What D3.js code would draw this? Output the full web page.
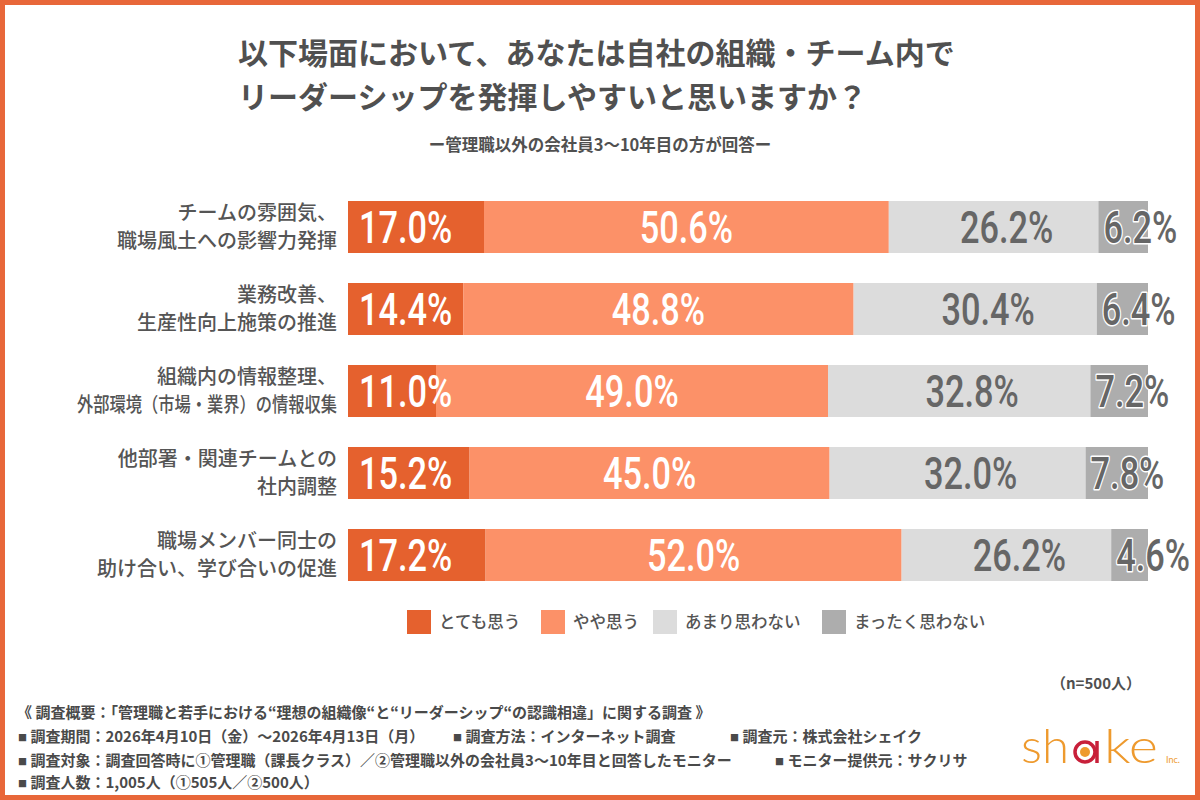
<!DOCTYPE html>
<html><head><meta charset="utf-8">
<script src="https://cdn.jsdelivr.net/npm/d3@7"></script>
<style>
html,body{margin:0;padding:0;background:#fff;}
svg{display:block;}
</style></head>
<body>
<svg id="chart" width="1200" height="800"></svg>
<script>
const categories = [
  ["チームの雰囲気、","職場風土への影響力発揮"],
  ["業務改善、","生産性向上施策の推進"],
  ["組織内の情報整理、","外部環境（市場・業界）の情報収集"],
  ["他部署・関連チームとの","社内調整"],
  ["職場メンバー同士の","助け合い、学び合いの促進"]
];
const seriesNames = ["とても思う","やや思う","あまり思わない","まったく思わない"];
const veryMuch = [17.0,14.4,11.0,15.2,17.2];
const somewhat = [50.6,48.8,49.0,45.0,52.0];
const notMuch = [26.2,30.4,32.8,32.0,26.2];
const notAtAll = [6.2,6.4,7.2,7.8,4.6];
const series = [veryMuch, somewhat, notMuch, notAtAll];
const colors = ["#E5612E","#FC9168","#DCDCDC","#ADADAD"];
const titleLines = ["以下場面において、あなたは自社の組織・チーム内で","リーダーシップを発揮しやすいと思いますか？"];
const subtitle = "ー管理職以外の会社員3〜10年目の方が回答ー";
const sampleNote = "（n=500人）";
const footerLines = [
  [["《 調査概要：「管理職と若手における“理想の組織像“と“リーダーシップ“の認識相違」に関する調査 》",17]],
  [["■ 調査期間：2026年4月10日（金）〜2026年4月13日（月）",18],["■ 調査方法：インターネット調査",453],["■ 調査元：株式会社シェイク",730]],
  [["■ 調査対象：調査回答時に①管理職（課長クラス）／②管理職以外の会社員3〜10年目と回答したモニター",18],["■ モニター提供元：サクリサ",775]],
  [["■ 調査人数：1,005人（①505人／②500人）",18]]
];

const JP = "'Noto Sans CJK JP','Noto Sans',sans-serif";
const svg = d3.select("#chart");
svg.append("rect").attr("x",0).attr("y",0).attr("width",1200).attr("height",800).attr("fill","#fff");

// Title
svg.append("g").selectAll("text").data(titleLines).join("text")
  .attr("x",238).attr("y",(d,i)=>64+i*44)
  .attr("font-family",JP).attr("font-size",30).attr("font-weight",700)
  .attr("fill","#505050").text(d=>d);
svg.append("text").attr("x",600).attr("y",151).attr("text-anchor","middle")
  .attr("font-family",JP).attr("font-size",16.5).attr("font-weight",700)
  .attr("fill","#505050").text(subtitle);

// Scales
const x = d3.scaleLinear().domain([0,100]).range([348,1148]);
const y = d3.scaleBand().domain(d3.range(categories.length)).range([171,611]).paddingInner(0.3659).paddingOuter(0.3659);

// Stack
const rows = categories.map((c,i)=>{
  let acc=0; return series.map((s,k)=>{const seg={row:i,k,v:s[i],x0:acc,x1:acc+s[i]}; acc+=s[i]; return seg;});
});
const segs = rows.flat();

const g = svg.append("g");
g.selectAll("rect.bar").data(segs).join("rect").attr("class","bar")
  .attr("x",d=>x(d.x0)).attr("width",d=>x(d.x1)-x(d.x0))
  .attr("y",d=>y(d.row)).attr("height",y.bandwidth())
  .attr("fill",d=>colors[d.k]);

// Value labels
g.selectAll("text.val").data(segs).join("text").attr("class","val")
  .attr("transform",d=>{
    let tx;
    if(d.k===0) tx=x(d.x0)+11;
    else if(d.k===3) tx=x(d.x0)+5;
    else if(d.k===2) tx=(x(d.x0)+x(d.x1))/2+13;
    else tx=(x(d.x0)+x(d.x1))/2;
    return `translate(${tx},${y(d.row)+y.bandwidth()/2}) scale(0.78,1)`;
  })
  .attr("dy","0.36em")
  .attr("text-anchor",d=>(d.k===1||d.k===2)?"middle":"start")
  .attr("font-family","Roboto,'DejaVu Sans',sans-serif").attr("font-size",44).attr("font-weight",500)
  .attr("fill",d=>d.k<2?"#ffffff":"#666666")
  .attr("stroke",d=>d.k===3?"#ffffff":"none").attr("stroke-width",3).attr("paint-order","stroke")
  .attr("stroke-linejoin","round")
  .text(d=>d.v.toFixed(1)+"%");

// Category labels
const cat = svg.append("g").selectAll("text").data(categories).join("text")
  .attr("x",337).attr("text-anchor","end")
  .attr("font-family",JP).attr("font-size",20).attr("font-weight",500).attr("fill","#555555");
cat.selectAll("tspan").data((d,i)=>d.map((t,j)=>({t,j,i}))).join("tspan")
  .attr("x",337).attr("y",d=>y(d.i)+y.bandwidth()/2+(d.j===0?-14:14)+7)
  .text(d=>d.t)
  .each(function(){
    const w=this.getComputedTextLength();
    if(w>265){ d3.select(this).attr("textLength",260).attr("lengthAdjust","spacingAndGlyphs"); }
  });

// Legend
const legX = [407,541,653,822];
const leg = svg.append("g").selectAll("g").data(seriesNames).join("g")
  .attr("transform",(d,i)=>`translate(${legX[i]},610)`);
leg.append("rect").attr("width",24).attr("height",24).attr("fill",(d,i)=>colors[i]);
leg.append("text").attr("x",32).attr("y",18).attr("font-family",JP).attr("font-size",16.5).attr("font-weight",500)
  .attr("fill","#555555").text(d=>d);

// n note
svg.append("text").attr("x",1141).attr("y",689).attr("text-anchor","end")
  .attr("font-family",JP).attr("font-size",15).attr("font-weight",700).attr("fill","#505050").text(sampleNote);

// Footer
const fy=[718,742,766,788];
footerLines.forEach((line,li)=>{
  const t = svg.append("g").selectAll("text").data(line).join("text")
    .attr("x",d=>d[1]).attr("y",fy[li])
    .attr("font-family",JP).attr("font-size",15).attr("font-weight",700).attr("fill","#4a4a4a");
  t.each(function(d){
    const s=d3.select(this); const str=d[0];
    if(str.startsWith("■")){
      s.append("tspan").attr("font-size",9).attr("dy",-1.5).text("■");
      s.append("tspan").attr("dy",1.5).text(str.slice(1));
    } else s.text(str);
  });
});

// Logo
const logo = svg.append("g");
const LF = "Lato,'Open Sans',sans-serif";
logo.append("text").attr("x",1021).attr("y",763).attr("font-family",LF)
  .attr("font-size",48).attr("font-weight",300).attr("fill","#EE9A2E")
  .attr("textLength",48).attr("lengthAdjust","spacingAndGlyphs").text("sh");
logo.append("circle").attr("cx",1085).attr("cy",752).attr("r",10).attr("fill","none").attr("stroke","#C8203A").attr("stroke-width",3.5);
logo.append("line").attr("x1",1097).attr("x2",1097).attr("y1",741).attr("y2",763).attr("stroke","#C8203A").attr("stroke-width",3.5);
logo.append("circle").attr("cx",1085).attr("cy",752).attr("r",5).attr("fill","#EE9A2E");
logo.append("text").attr("x",1104).attr("y",763).attr("font-family",LF)
  .attr("font-size",48).attr("font-weight",300).attr("fill","#EE9A2E")
  .attr("textLength",54).attr("lengthAdjust","spacingAndGlyphs").text("ke");
logo.append("text").attr("x",1166).attr("y",763).attr("font-family",LF)
  .attr("font-size",9).attr("fill","#EE9A2E").text("Inc.");

// Frame
svg.append("rect").attr("x",2.5).attr("y",2.5).attr("width",1195).attr("height",795)
  .attr("fill","none").attr("stroke","#E8673A").attr("stroke-width",5);
</script>
</body></html>
